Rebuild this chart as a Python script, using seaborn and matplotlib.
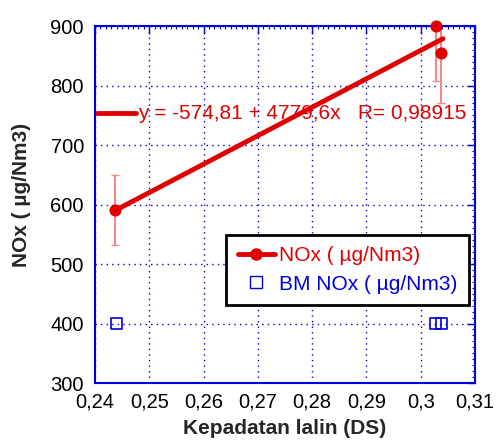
import matplotlib
matplotlib.use("Agg")
import matplotlib.pyplot as plt
import numpy as np
import pandas as pd
import seaborn as sns
from matplotlib.ticker import MultipleLocator, FuncFormatter

# data
ds = [0.2437, 0.3028, 0.3037]
nox = [591, 900, 855]
nox_err = [59, 93, 85]
bm_ds = [0.2439, 0.3028, 0.3038]
bm_nox = [400, 400, 400]
fit_a, fit_b, fit_r = -574.81, 4779.6, 0.98915

red = "#e00000"
blue = "#0000dd"

sns.set_style("white")
plt.rcParams['font.family'] = ['Liberation Sans', 'DejaVu Sans']

fig = plt.figure(figsize=(5, 4.43), dpi=100)
ax = fig.add_axes([0.19, 0.1354, 0.76, 0.8059])

df = pd.DataFrame({"ds": ds, "nox": nox})
bm = pd.DataFrame({"ds": bm_ds, "nox": bm_nox})

# error bars
ax.errorbar(ds, nox, yerr=nox_err, fmt="none", ecolor="#f08a8a",
            elinewidth=1.5, capsize=3, zorder=3)

# fit line over the data range
xf = np.array([min(ds), max(ds) + 0.0004])
ax.plot(xf, fit_a + fit_b * xf, color=red, lw=3.5, zorder=4)

sns.scatterplot(data=df, x="ds", y="nox", ax=ax, color=red, s=65,
                edgecolor=red, zorder=5, clip_on=False, legend=False)
sns.scatterplot(data=bm, x="ds", y="nox", ax=ax, marker="s", s=62,
                facecolor="none", edgecolor=blue, linewidth=1.2, zorder=5,
                legend=False)

ax.set_xlim(0.24, 0.31)
ax.set_ylim(300, 900)
ax.xaxis.set_major_locator(MultipleLocator(0.01))
ax.yaxis.set_major_locator(MultipleLocator(100))
ax.xaxis.set_minor_locator(MultipleLocator(0.001))
ax.yaxis.set_minor_locator(MultipleLocator(10))
ax.xaxis.set_major_formatter(FuncFormatter(lambda v, p: f"{v:.2f}".rstrip("0").replace(".", ",")))
ax.tick_params(which="both", direction="in", top=True, right=True,
               color=blue, labelsize=14.5, labelcolor="black")
ax.tick_params(which="major", length=6, width=1)
ax.tick_params(which="minor", length=2, width=0.8)
ax.tick_params(axis="x", which="major", pad=7)
ax.tick_params(axis="y", which="major", pad=8)
ax.grid(True, which="major", color=blue, linestyle=(0, (1, 3)), lw=1)
for s in ax.spines.values():
    s.set_color(blue)
    s.set_linewidth(1.5)

ax.set_xlabel("Kepadatan lalin (DS)", fontsize=15, fontweight="bold", labelpad=5)
ax.set_ylabel("NOx ( µg/Nm3)", fontsize=15, fontweight="bold")
ax.yaxis.set_label_coords(-0.168, 0.527)

# fit equation line
ax.plot([0.005, 0.108], [0.756, 0.756], transform=ax.transAxes, color=red,
        lw=3.5, clip_on=False)
ax.text(0.112, 0.756, f"y = {fit_a:.2f} + {fit_b:.1f}x   R= {fit_r:.5f}".replace(".", ","),
        transform=ax.transAxes, color=red, fontsize=15, va="center", ha="left")

h1, = ax.plot([], [], color=red, lw=3.5, marker="o", ms=8)
h2, = ax.plot([], [], ls="none", marker="s", ms=8, mfc="none", mec=blue, mew=1)
leg = ax.legend([h1, h2], ["NOx ( µg/Nm3)", "BM NOx ( µg/Nm3)"],
                loc="upper left", bbox_to_anchor=(0.345, 0.415), fontsize=15,
                frameon=True, fancybox=False, framealpha=1, borderpad=0.55,
                borderaxespad=0, handlelength=1.8, handletextpad=0.2,
                labelspacing=0.45)
leg.get_frame().set_edgecolor("black")
leg.get_frame().set_linewidth(2)
for t, c in zip(leg.get_texts(), [red, blue]):
    t.set_color(c)

fig.savefig("out.png", dpi=100)
